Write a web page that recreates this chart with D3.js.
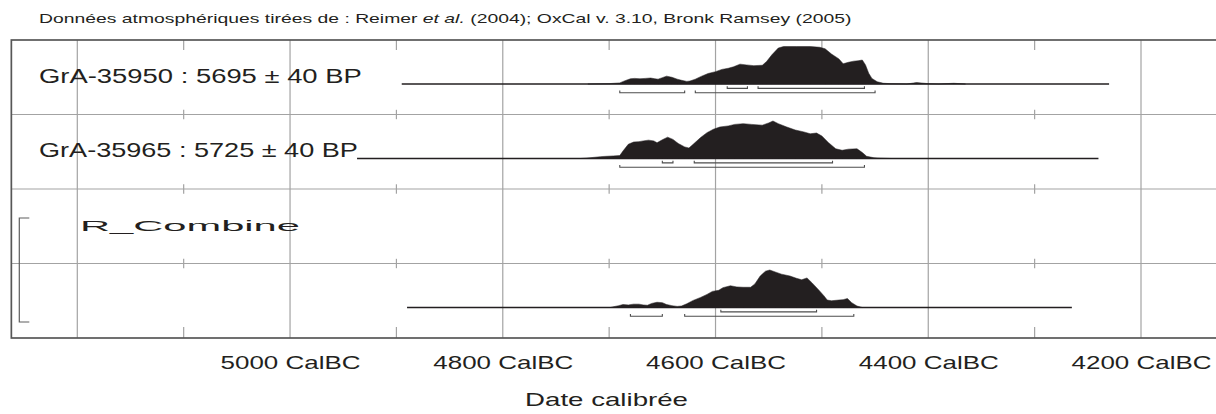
<!DOCTYPE html>
<html>
<head>
<meta charset="utf-8">
<script src="https://cdn.jsdelivr.net/npm/d3@7"></script>
<style>
  html, body { margin: 0; padding: 0; background: #fff; }
  svg { display: block; font-family: "Liberation Sans", Arial, Helvetica, sans-serif; }
</style>
</head>
<body>
<div id="chart"></div>
<script>
// ---- data ----
const titleParts = [
  ["Données atmosphériques tirées de : Reimer ", "normal"],
  ["et al.", "italic"],
  [" (2004); OxCal v. 3.10, Bronk Ramsey (2005)", "normal"]
];
const rowLabels = ["GrA-35950 : 5695 ± 40 BP", "GrA-35965 : 5725 ± 40 BP"];
const groupLabel = "R_Combine";
const axisTicks = [5000, 4800, 4600, 4400, 4200];
const axisTitle = "Date calibrée";
const majorYears = [5200, 5000, 4800, 4600, 4400, 4200];
const minorYears = [5100, 4900, 4700, 4500, 4300];

// [year BC, relative probability (max = 100)]
const density35950 = [
  [4720, 0], [4700, 1], [4690, 3], [4685, 9], [4680, 14], [4676, 15], [4671, 14], [4666, 15],
  [4661, 16], [4657, 14], [4654, 13], [4650, 17], [4646, 21], [4641, 18], [4636, 13], [4632, 10],
  [4627, 7], [4624, 8], [4619, 13], [4613, 21], [4607, 28], [4600, 33], [4594, 39], [4588, 42],
  [4583, 46], [4577, 53], [4571, 51], [4564, 49], [4556, 50], [4552, 60], [4547, 78], [4541, 96],
  [4536, 100], [4524, 100], [4511, 100], [4502, 98], [4497, 94], [4491, 80], [4484, 67], [4480, 54],
  [4475, 58], [4470, 61], [4466, 62], [4462, 64], [4459, 51], [4456, 29], [4453, 15], [4448, 6],
  [4442, 2], [4436, 1], [4420, 0], [4411, 4], [4400, 1], [4390, 0], [4376, 2], [4365, 0]
];
const density35965 = [
  [4727, 0], [4718, 2], [4708, 5], [4702, 6], [4696, 7], [4690, 8], [4687, 20], [4682, 38],
  [4677, 44], [4672, 45], [4668, 47], [4663, 49], [4658, 47], [4655, 42], [4650, 50], [4645, 57],
  [4640, 51], [4635, 40], [4629, 31], [4625, 28], [4621, 38], [4614, 56], [4608, 69], [4602, 78],
  [4596, 84], [4588, 87], [4582, 91], [4574, 93], [4566, 91], [4556, 89], [4550, 95], [4546, 100],
  [4541, 93], [4533, 84], [4525, 76], [4517, 71], [4511, 66], [4505, 68], [4500, 60], [4494, 43],
  [4487, 26], [4481, 22], [4475, 25], [4467, 26], [4462, 16], [4458, 6], [4451, 2], [4445, 1], [4435, 0]
];
const densityCombine = [
  [4718, 0], [4699, 0], [4696, 2], [4691, 5], [4687, 8], [4682, 7], [4677, 9], [4672, 9],
  [4668, 7], [4664, 6], [4660, 11], [4655, 14], [4650, 13], [4646, 8], [4641, 5], [4636, 3],
  [4632, 4], [4627, 10], [4621, 19], [4614, 27], [4608, 35], [4603, 43], [4597, 46], [4593, 53],
  [4586, 58], [4580, 55], [4574, 54], [4567, 54], [4563, 63], [4558, 84], [4553, 97], [4549, 100],
  [4544, 95], [4538, 89], [4530, 84], [4524, 78], [4519, 74], [4514, 79], [4509, 65], [4503, 47],
  [4498, 31], [4495, 20], [4491, 18], [4484, 20], [4480, 21], [4476, 24], [4472, 13], [4467, 4], [4462, 0]
];

// extent of the plotted baseline for each distribution
const span35950 = [4895, 4230];
const span35965 = [4937, 4240];
const spanCombine = [4890, 4265];

// highest probability ranges (68.2% and 95.4%)
const range68_35950 = [[4589, 4570], [4560, 4460]];
const range95_35950 = [[4690, 4629], [4619, 4450]];
const range68_35965 = [[4650, 4640], [4620, 4490]];
const range95_35965 = [[4690, 4460]];
const range68_Combine = [[4595, 4505]];
const range95_Combine = [[4680, 4650], [4629, 4470]];

const series = [
  { row: 0, density: density35950, span: span35950, r68: range68_35950, r95: range95_35950 },
  { row: 1, density: density35965, span: span35965, r68: range68_35965, r95: range95_35965 },
  { row: 3, density: densityCombine, span: spanCombine, r68: range68_Combine, r95: range95_Combine }
];

// ---- layout ----
const width = 1216, height = 414;
const ink = "#231f20", grid = "#a3a3a3";

const svg = d3.select("#chart").append("svg")
  .attr("width", width)
  .attr("height", height);

const x = d3.scaleLinear().domain([5200, 4200]).range([77.3, 1141]);
const frameYears = [5262, 4120];
const rows = d3.scaleBand().domain(d3.range(4)).range([40, 338]);
const prob = d3.scaleLinear().domain([0, 100]).range([0, 37.5]);
const baseline = i => rows(i) + 44;
const frameTop = rows.range()[0], frameBottom = rows.range()[1];

// source picture is stretched horizontally, so fit every text to its measured width
function stretchTo(text, targetWidth) {
  text.each(function () {
    const t = d3.select(this);
    const w = this.getComputedTextLength();
    const px = +t.attr("x") || 0, py = +t.attr("y") || 0;
    t.attr("x", 0).attr("y", 0)
      .attr("transform", `translate(${px},${py}) scale(${targetWidth / w},1)`);
  });
}

// row separators
svg.append("g")
  .selectAll("line")
  .data(d3.range(1, 4))
  .join("line")
  .attr("x1", x(frameYears[0])).attr("x2", x(frameYears[1]))
  .attr("y1", d => rows(d)).attr("y2", d => rows(d))
  .style("stroke", grid).style("stroke-width", 1.2);

// full vertical lines every 200 years
svg.append("g")
  .selectAll("line")
  .data(majorYears)
  .join("line")
  .attr("x1", d => x(d)).attr("x2", d => x(d))
  .attr("y1", frameTop).attr("y2", frameBottom)
  .style("stroke", grid).style("stroke-width", 1.2);

// short ticks on the odd centuries, at every row boundary
const boundaries = [frameTop, ...d3.range(1, 4).map(rows), frameBottom];
const tickSegs = [];
minorYears.forEach(yr => boundaries.forEach((b, i) => {
  const y1 = i === 0 ? b : (i === boundaries.length - 1 ? b - 11 : b - 4.7);
  const y2 = i === 0 ? b + 10 : (i === boundaries.length - 1 ? b : b + 4.7);
  tickSegs.push({ yr, y1, y2 });
}));
svg.append("g")
  .selectAll("line")
  .data(tickSegs)
  .join("line")
  .attr("x1", d => x(d.yr)).attr("x2", d => x(d.yr))
  .attr("y1", d => d.y1).attr("y2", d => d.y2)
  .style("stroke", grid).style("stroke-width", 1.2);

// outer frame (runs off the right edge)
svg.append("rect")
  .attr("x", x(frameYears[0])).attr("y", frameTop)
  .attr("width", x(frameYears[1]) - x(frameYears[0])).attr("height", frameBottom - frameTop)
  .style("fill", "none").style("stroke", "#575757").style("stroke-width", 1.7);

// distributions
const area = d3.area()
  .x(d => x(d[0]))
  .y0(0)
  .y1(d => -prob(d[1]));

const bracket = (r, y) => `M${x(r[0])},${y - 2.2}V${y}H${x(r[1])}V${y - 2.2}`;

series.forEach(s => {
  const g = svg.append("g").attr("transform", `translate(0,${baseline(s.row)})`);

  g.append("line")
    .attr("x1", x(s.span[0])).attr("x2", x(s.span[1]))
    .attr("y1", 0).attr("y2", 0)
    .style("stroke", ink).style("stroke-width", 1.3);

  g.append("path")
    .attr("d", area(s.density))
    .style("fill", ink).style("stroke", ink).style("stroke-width", 0.5);

  g.selectAll(".r68")
    .data(s.r68)
    .join("path")
    .attr("class", "r68")
    .attr("d", r => bracket(r, 4.4))
    .style("fill", "none").style("stroke", "#4d4d4d").style("stroke-width", 1.1);

  g.selectAll(".r95")
    .data(s.r95)
    .join("path")
    .attr("class", "r95")
    .attr("d", r => bracket(r, 8.8))
    .style("fill", "none").style("stroke", "#4d4d4d").style("stroke-width", 1.1);
});

// bracket grouping the combined rows
svg.append("path")
  .attr("d", `M29.3,${rows(2) + 29}H19.3V${rows(3) + 58.5}H29.3`)
  .style("fill", "none").style("stroke", "#5e5e5e").style("stroke-width", 1.2);

// labels
const title = svg.append("text")
  .attr("x", 39).attr("y", 23)
  .style("font-size", "12px").style("fill", ink);
title.selectAll("tspan")
  .data(titleParts)
  .join("tspan")
  .style("font-style", d => d[1])
  .text(d => d[0]);
stretchTo(title, 813);

const labelWidths = [323, 319];
rowLabels.forEach((label, i) => {
  svg.append("text")
    .attr("x", 39).attr("y", rows(i) + 42.7)
    .style("font-size", "20px").style("fill", ink)
    .text(label)
    .call(stretchTo, labelWidths[i]);
});

svg.append("text")
  .attr("x", 80).attr("y", rows(2) + 41.7)
  .style("font-size", "15px").style("fill", ink)
  .text(groupLabel)
  .call(stretchTo, 220);

// axis
const axis = svg.append("g")
  .attr("transform", "translate(0,369)")
  .call(d3.axisBottom(x).tickValues(axisTicks).tickFormat(d => `${d} CalBC`).tickSize(0).tickPadding(0));
axis.select(".domain").remove();
axis.selectAll("text")
  .attr("dy", null).attr("y", 0)
  .style("font-size", "18px").style("fill", ink)
  .style("font-family", "\"Liberation Sans\", Arial, sans-serif")
  .call(stretchTo, 140);

svg.append("text")
  .attr("x", 606.5).attr("y", 406)
  .attr("text-anchor", "middle")
  .style("font-size", "18px").style("fill", ink)
  .text(axisTitle)
  .call(stretchTo, 163);
</script>
</body>
</html>
